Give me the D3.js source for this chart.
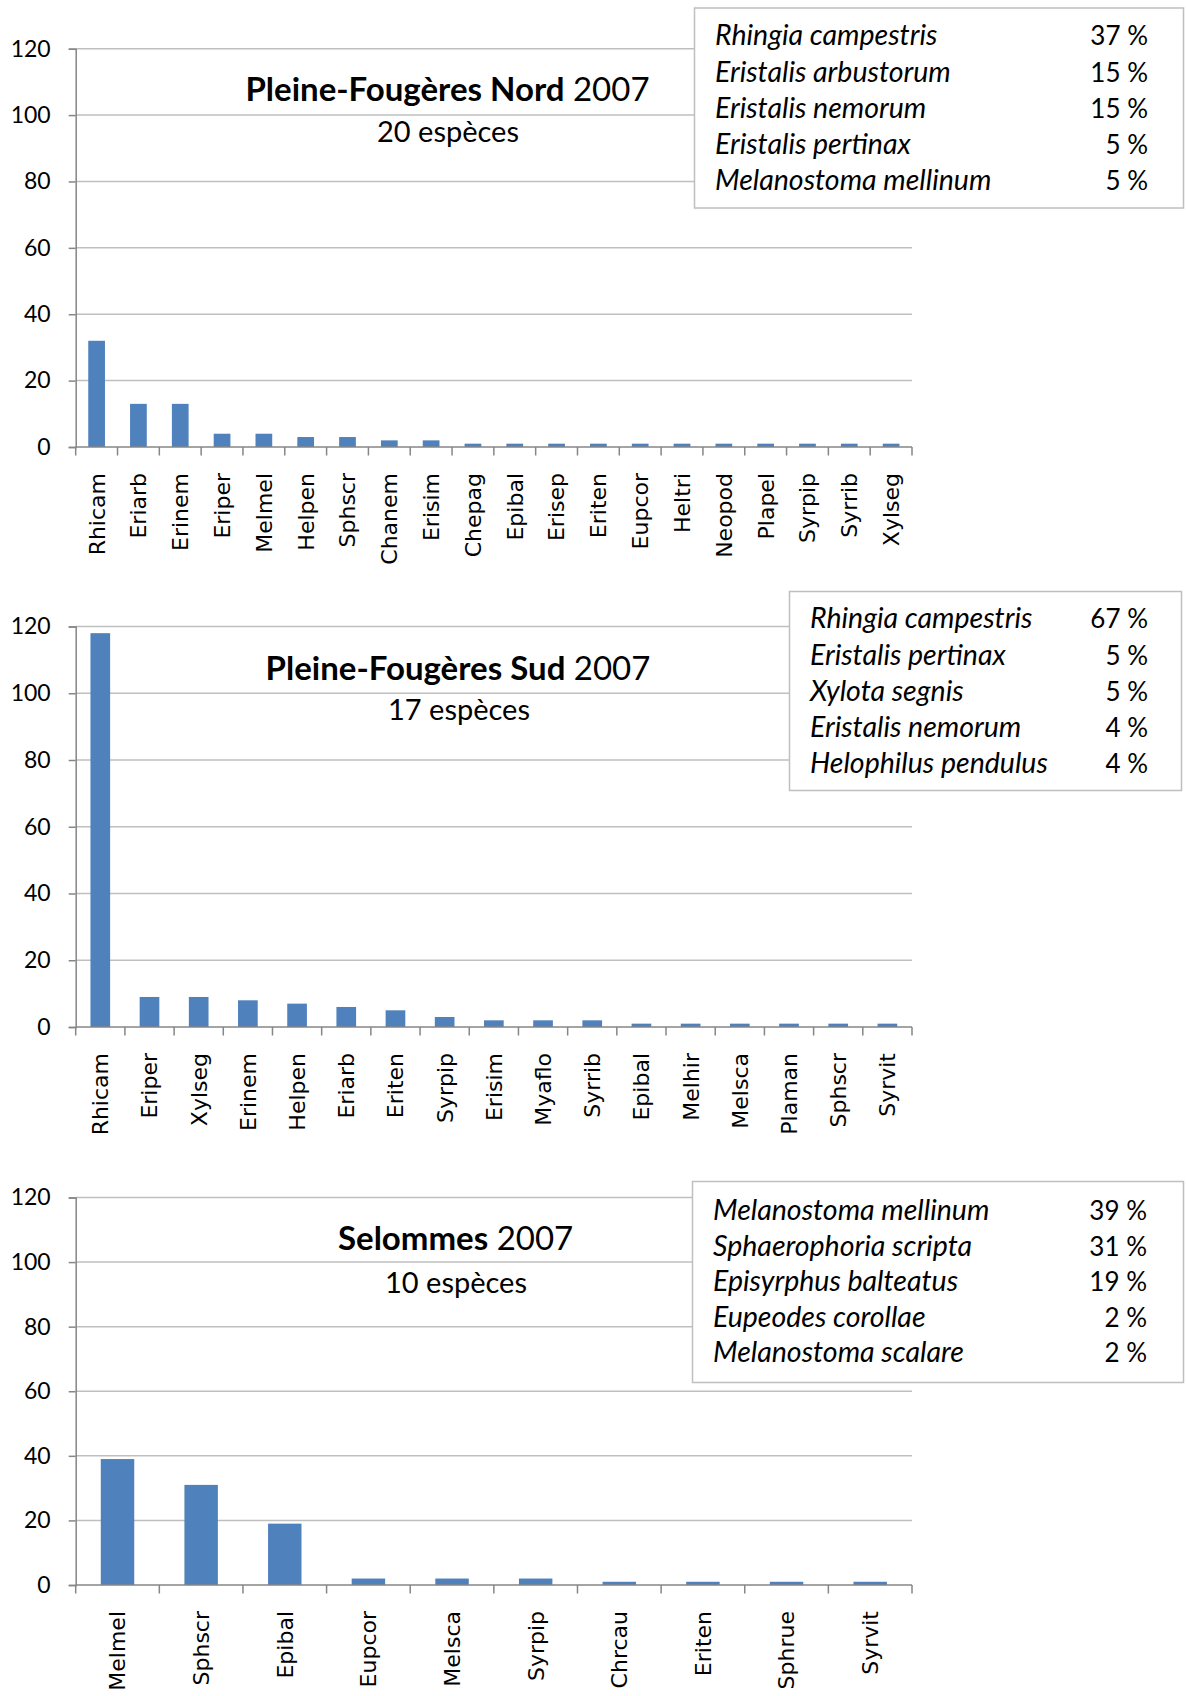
<!DOCTYPE html>
<html><head><meta charset="utf-8">
<script src="https://cdn.jsdelivr.net/npm/d3@7"></script>
<style>
html,body{margin:0;padding:0;background:#fff;}
svg{display:block;}
</style></head><body>
<svg id="chart" width="1186" height="1696"></svg>
<script>
// Hoverfly counts per species, three sites, 2007
const yTicks = [0, 20, 40, 60, 80, 100, 120];

const nordCategories = ["Rhicam","Eriarb","Erinem","Eriper","Melmel","Helpen","Sphscr","Chanem","Erisim","Chepag","Epibal","Erisep","Eriten","Eupcor","Heltri","Neopod","Plapel","Syrpip","Syrrib","Xylseg"];
const nordValues = [32,13,13,4,4,3,3,2,2,1,1,1,1,1,1,1,1,1,1,1];
const nordSpecies = ["Rhingia campestris","Eristalis arbustorum","Eristalis nemorum","Eristalis pertinax","Melanostoma mellinum"];
const nordShares = [37,15,15,5,5];

const sudCategories = ["Rhicam","Eriper","Xylseg","Erinem","Helpen","Eriarb","Eriten","Syrpip","Erisim","Myaflo","Syrrib","Epibal","Melhir","Melsca","Plaman","Sphscr","Syrvit"];
const sudValues = [118,9,9,8,7,6,5,3,2,2,2,1,1,1,1,1,1];
const sudSpecies = ["Rhingia campestris","Eristalis pertinax","Xylota segnis","Eristalis nemorum","Helophilus pendulus"];
const sudShares = [67,5,5,4,4];

const selCategories = ["Melmel","Sphscr","Epibal","Eupcor","Melsca","Syrpip","Chrcau","Eriten","Sphrue","Syrvit"];
const selValues = [39,31,19,2,2,2,1,1,1,1];
const selSpecies = ["Melanostoma mellinum","Sphaerophoria scripta","Episyrphus balteatus","Eupeodes corollae","Melanostoma scalare"];
const selShares = [39,31,19,2,2];

const siteNames = ["Pleine-Fougères Nord", "Pleine-Fougères Sud", "Selommes"];
const year = "2007";
const speciesCounts = ["20 espèces", "17 espèces", "10 espèces"];

// Panel geometry
const panels = [
  { cats: nordCategories, vals: nordValues, species: nordSpecies, shares: nordShares,
    name: siteNames[0], sub: speciesCounts[0],
    left: 75.7, right: 912, y0: 447, yTop: 48.7,
    titleX: 447.5, titleY: 100.6, subX: 448, subY: 141.7,
    box: { x: 694.5, y: 8, w: 489, h: 200 }, textX: 715, pctX: 1148, row1: 45.4, step: 36.2 },
  { cats: sudCategories, vals: sudValues, species: sudSpecies, shares: sudShares,
    name: siteNames[1], sub: speciesCounts[1],
    left: 75.7, right: 912, y0: 1027, yTop: 626.5,
    titleX: 458, titleY: 680, subX: 459, subY: 720,
    box: { x: 789.5, y: 591.5, w: 392, h: 199 }, textX: 810, pctX: 1148, row1: 628.3, step: 36.2 },
  { cats: selCategories, vals: selValues, species: selSpecies, shares: selShares,
    name: siteNames[2], sub: speciesCounts[2],
    left: 75.7, right: 912, y0: 1585, yTop: 1197.5,
    titleX: 455.6, titleY: 1250, subX: 456, subY: 1292.5,
    box: { x: 692.5, y: 1181.5, w: 491, h: 201 }, textX: 713, pctX: 1147, row1: 1220, step: 35.6 }
];

const svg = d3.select("#chart");
const BAR = "#4F81BD", GRID = "#BFBFBF", AXIS = "#868686";
const UI = "Lato, 'Open Sans', sans-serif";

panels.forEach(p => {
  const g = svg.append("g");
  const x = d3.scaleBand().domain(p.cats).range([p.left, p.right]).paddingInner(0.6).paddingOuter(0.3);
  const y = d3.scaleLinear().domain([0, 120]).range([p.y0, p.yTop]);

  // horizontal gridlines
  g.selectAll("line.grid").data(yTicks.filter(t => t > 0)).join("line")
    .attr("x1", p.left).attr("x2", p.right)
    .attr("y1", d => y(d)).attr("y2", d => y(d))
    .attr("stroke", GRID).attr("stroke-width", 1.5);

  // y axis
  const yAxis = d3.axisLeft(y).tickValues(yTicks).tickSize(7).tickPadding(18);
  const ya = g.append("g").attr("transform", `translate(${p.left},0)`).call(yAxis);
  ya.select(".domain").attr("stroke", AXIS).attr("stroke-width", 1.5);
  ya.selectAll(".tick line").attr("stroke", AXIS).attr("stroke-width", 1.5);
  ya.selectAll(".tick text").attr("font-family", UI).attr("font-size", 23).attr("fill", "#000");

  // bars
  g.selectAll("rect.bar").data(p.cats.map((c, i) => ({ c, v: p.vals[i] }))).join("rect")
    .attr("x", d => x(d.c)).attr("width", x.bandwidth())
    .attr("y", d => y(d.v)).attr("height", d => y(0) - y(d.v))
    .attr("fill", BAR);

  // x axis line with boundary ticks
  g.append("line").attr("x1", p.left).attr("x2", p.right).attr("y1", p.y0).attr("y2", p.y0)
    .attr("stroke", AXIS).attr("stroke-width", 1.5);
  const step = x.step();
  g.selectAll("line.xt").data(d3.range(p.cats.length + 1)).join("line")
    .attr("x1", i => p.left + i * step).attr("x2", i => p.left + i * step)
    .attr("y1", p.y0).attr("y2", p.y0 + 8.5)
    .attr("stroke", AXIS).attr("stroke-width", 1.5);

  // rotated category labels
  g.selectAll("text.cat").data(p.cats).join("text")
    .attr("transform", d => `translate(${x(d) + x.bandwidth() / 2},${p.y0 + 26}) rotate(-90)`)
    .attr("text-anchor", "end").attr("dy", "0.36em")
    .attr("font-family", "'DejaVu Sans', Verdana, sans-serif").attr("font-size", 22)
    .attr("fill", "#000").text(d => d);

  // title
  const t = g.append("text").attr("x", p.titleX).attr("y", p.titleY)
    .attr("text-anchor", "middle").attr("font-family", UI).attr("font-size", 33).attr("fill", "#000");
  t.append("tspan").attr("font-weight", "bold").text(p.name);
  t.append("tspan").text(" " + year);
  g.append("text").attr("x", p.subX).attr("y", p.subY).attr("text-anchor", "middle")
    .attr("font-family", UI).attr("font-size", 29).attr("fill", "#000").text(p.sub);

  // top-five legend box
  g.append("rect").attr("x", p.box.x).attr("y", p.box.y).attr("width", p.box.w).attr("height", p.box.h)
    .attr("fill", "#fff").attr("stroke", GRID).attr("stroke-width", 1.5);
  g.selectAll("text.sp").data(p.species).join("text")
    .attr("x", p.textX).attr("y", (d, i) => p.row1 + i * p.step)
    .attr("font-family", UI).attr("font-style", "italic").attr("font-size", 28.5).attr("fill", "#000")
    .text(d => d);
  g.selectAll("text.pc").data(p.shares).join("text")
    .attr("x", p.pctX).attr("y", (d, i) => p.row1 + i * p.step)
    .attr("text-anchor", "end")
    .attr("font-family", UI).attr("font-size", 26).attr("fill", "#000")
    .text(d => `${d} %`);
});
</script>
</body></html>
